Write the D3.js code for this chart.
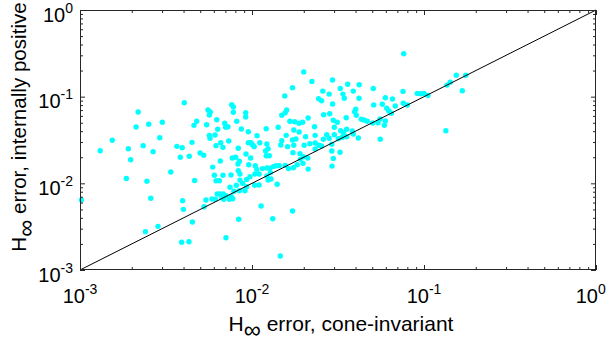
<!DOCTYPE html>
<html>
<head>
<meta charset="utf-8">
<script src="https://cdn.jsdelivr.net/npm/d3@7"></script>
<style>
  html, body { margin: 0; padding: 0; background: #fff; }
  svg { display: block; }
  text { font-family: "Liberation Sans", Arial, Helvetica, sans-serif; fill: #000; }
</style>
</head>
<body>
<div id="chart"></div>
<script>
// ---- data: H-infinity errors (x: cone-invariant, y: internally positive)
const coneInvariantErr = [
  0.00131,0.00154,0.00191,0.00197,0.00218,0.00212,0.00233,0.00251,0.00266,0.00291,
  0.00301,0.00366,0.00383,0.00393,0.00404,0.00432,0.00448,0.00460,0.00477,0.00545,
  0.00555,0.00565,0.00572,0.00565,0.00570,0.00610,0.00624,0.00632,0.00618,0.00658,
  0.00678,0.00694,0.00703,0.00725,0.00732,
  0.00102,0.00186,0.00245,0.00337,0.00258,0.00395,0.00399,0.00450,0.00464,0.00284,
  0.00240,0.00390,0.00430,
  0.00499,0.00524,0.00591,0.00654,0.00768,0.00804,0.00829,0.00844,0.00982,0.00923,
  0.00957,0.01045,0.0121,0.0126,0.0120,0.0173,0.0190,0.0199,0.0191,0.0211,
  0.0183,0.0198,0.0212,0.0174,0.0163,0.0156,0.0144,0.0138,0.0133,0.0127,
  0.0122,0.0115,0.01065,0.0110,0.0128,0.0122,0.0129,0.0124,0.0140,0.0104,
  0.00973,0.00931,0.00851,0.00832,0.00755,0.00851,0.00883,0.00811,0.00745,0.01037,
  0.0110,0.00931,0.00910,0.00844,0.00786,0.00604,0.00618,0.00646,0.00678,0.00526,
  0.00540,0.00585,0.00628,0.00651,0.00681,0.00706,0.00758,0.00772,0.00738,0.00669,
  0.00685,0.00612,0.0113,0.0172,0.00837,0.0132,0.00706,0.0146,
  0.0200,0.0223,0.0172,0.0155,0.0244,0.00762,0.00779,0.00779,0.00919,0.00919,
  0.0159,0.0156,0.0149,0.00815,0.00867,0.00952,0.0107,0.0121,0.0142,0.0166,
  0.0177,0.0188,0.0197,0.0212,0.0231,0.0175,0.0188,0.0205,0.0233,0.0158,
  0.0172,0.0180,0.0149,0.0147,0.00952,0.00987,0.0101,0.0103,0.0111,0.0122,
  0.00832,0.0124,0.0161,0.0175,0.0201,0.0217,0.0233,0.0245,0.0233,
  0.0762,0.0294,0.0326,0.0360,0.0420,0.0388,0.0258,0.0281,0.0338,0.0344,
  0.0507,0.0419,0.0254,0.0294,0.0755,0.0596,0.0656,0.0914,0.0957,0.100,
  0.1055,0.142,0.0510,0.0572,0.0607,0.0681,0.0758,0.0800,0.0624,0.0646,
  0.0401,0.0395,0.0404,0.0261,0.0283,0.0353,0.0297,0.0313,0.0432,0.0448,
  0.0468,0.0503,0.0540,0.0555,0.0596,0.0588,0.0301,0.0328,0.0341,0.0355,
  0.0383,0.0388,0.0272,0.0301,0.0281,0.0260,0.0318,0.0335,0.0355,0.0415,
  0.0557,0.134,0.0291,0.0254,0.0291,0.0325,0.0297,0.0292,0.136,0.154,
  0.175,0.167
];
const internallyPositiveErr = [
  0.0238,0.0314,0.0251,0.0187,0.0665,0.0447,0.0272,0.0480,0.0232,0.0336,
  0.0506,0.0267,0.0200,0.0258,0.0852,0.0205,0.0297,0.0467,0.0520,0.0475,
  0.0702,0.0614,0.0665,0.0358,0.0331,0.0361,0.0542,0.0420,0.0272,0.0294,
  0.0260,0.0493,0.0443,0.0450,0.0308,
  0.00642,0.0114,0.0106,0.0135,0.00672,0.00631,0.00501,0.00358,0.0108,0.00319,
  0.00277,0.00209,0.00212,
  0.0224,0.0211,0.0154,0.0181,0.0196,0.0200,0.0167,0.0180,0.0196,0.0218,
  0.0164,0.0160,0.0208,0.0208,0.0236,0.0226,0.0220,0.0203,0.0189,0.0196,
  0.0164,0.0170,0.0146,0.0151,0.0148,0.0161,0.0160,0.0160,0.0156,0.0149,
  0.0150,0.0148,0.0145,0.0128,0.0133,0.01215,0.0112,0.0109,0.00975,0.0128,
  0.0119,0.0111,0.0128,0.0140,0.0125,0.0109,0.0100,0.00949,0.00900,0.00949,
  0.00957,0.00914,0.00822,0.00822,0.00809,0.0124,0.0107,0.0107,0.0124,0.00537,
  0.00642,0.00659,0.00753,0.00753,0.00753,0.00720,0.00701,0.00665,0.00654,0.00683,
  0.00654,0.00654,0.00547,0.00480,0.00385,0.00391,0.00236,0.00145,
  0.193,0.150,0.127,0.102,0.0947,0.0808,0.0760,0.0660,0.0653,0.0582,
  0.0702,0.0653,0.0610,0.0520,0.0424,0.0394,0.0355,0.0427,0.0443,0.0520,
  0.0514,0.0493,0.0506,0.0567,0.0450,0.0412,0.0391,0.0345,0.0358,0.0358,
  0.0316,0.0325,0.0310,0.0277,0.0294,0.0294,0.0277,0.0265,0.0294,0.0284,
  0.0254,0.0251,0.0265,0.0275,0.0275,0.0287,0.0292,0.0275,0.0249,
  0.313,0.156,0.124,0.139,0.1375,0.116,0.116,0.107,0.107,0.0957,
  0.124,0.0957,0.0898,0.0823,0.115,0.0973,0.0940,0.109,0.108,0.109,
  0.103,0.147,0.0801,0.0816,0.0734,0.0780,0.0838,0.0801,0.0683,0.0643,
  0.0715,0.0671,0.0610,0.0619,0.0636,0.0572,0.0534,0.0506,0.0548,0.0538,
  0.0520,0.0497,0.0501,0.0553,0.0524,0.0467,0.0443,0.0405,0.0384,0.0420,
  0.0402,0.0371,0.0364,0.0364,0.0331,0.0322,0.0327,0.0340,0.0345,0.0333,
  0.0322,0.0405,0.0282,0.0270,0.0236,0.0228,0.0194,0.0158,0.136,0.1765,
  0.1765,0.117
];
const axisDomain = [1e-3, 1];
const majorTicks = [1e-3, 1e-2, 1e-1, 1];
const tickExponents = ["-3", "-2", "-1", "0"];
const xLabelMain = "H", xLabelSub = "\u221E", xLabelRest = " error, cone-invariant";
const yLabelMain = "H", yLabelSub = "\u221E", yLabelRest = " error, internally positive";

// ---- layout
const W = 608, H = 343;
const m = {left: 80, top: 10, right: 12, bottom: 73};
const pw = W - m.left - m.right, ph = H - m.top - m.bottom;

const svg = d3.select("#chart").append("svg").attr("width", W).attr("height", H);

const x = d3.scaleLog().domain(axisDomain).range([m.left, m.left + pw]);
const y = d3.scaleLog().domain(axisDomain).range([m.top + ph, m.top]);

const minorTicks = [];
majorTicks.slice(0, -1).forEach(t => { for (let k = 2; k <= 9; k++) minorTicks.push(t * k); });

const data = coneInvariantErr.map((v, i) => ({x: v, y: internallyPositiveErr[i]}));

// points
svg.append("g").selectAll("circle").data(data).join("circle")
  .attr("cx", d => x(d.x)).attr("cy", d => y(d.y)).attr("r", 2.7)
  .attr("fill", "#00FFFF");

// diagonal y = x
svg.append("line")
  .attr("x1", x(axisDomain[0])).attr("y1", y(axisDomain[0]))
  .attr("x2", x(axisDomain[1])).attr("y2", y(axisDomain[1]))
  .attr("stroke", "#000").attr("stroke-width", 1);

// axes (ticks inward, box)
function styleAxis(g) {
  g.select(".domain").remove();
  g.selectAll("text").remove();
  g.selectAll("line").attr("stroke", "#262626").attr("stroke-width", 1);
}
const axes = [
  [d3.axisBottom(x), `translate(0,${m.top + ph})`],
  [d3.axisTop(x), `translate(0,${m.top})`],
  [d3.axisLeft(y), `translate(${m.left},0)`],
  [d3.axisRight(y), `translate(${m.left + pw},0)`]
];
axes.forEach(([ax, tr]) => {
  svg.append("g").attr("transform", tr)
    .call(ax.tickValues(majorTicks).tickSize(-5).tickFormat(""))
    .call(styleAxis);
  svg.append("g").attr("transform", tr)
    .call(ax.tickValues(minorTicks).tickSize(-3).tickFormat(""))
    .call(styleAxis);
});
svg.append("rect")
  .attr("x", m.left + 0.5).attr("y", m.top + 0.5)
  .attr("width", pw - 1).attr("height", ph - 1)
  .attr("fill", "none").attr("stroke", "#262626").attr("stroke-width", 1);

// tick labels 10^n
majorTicks.forEach((t, i) => {
  const tx = svg.append("text").attr("x", x(t)).attr("y", m.top + ph + 33)
    .attr("text-anchor", "middle").attr("font-size", 20);
  tx.append("tspan").text("10");
  tx.append("tspan").attr("dy", -9).attr("font-size", 14).text(tickExponents[i]);
  // keep the label inside the figure (the last one sits at the right edge)
  const bb = tx.node().getBBox();
  const over = bb.x + bb.width - (W - 2);
  if (over > 0) tx.attr("x", x(t) - over);

  const ty = svg.append("text").attr("x", m.left - 7).attr("y", y(t) + 11.5)
    .attr("text-anchor", "end").attr("font-size", 20);
  ty.append("tspan").text("10");
  ty.append("tspan").attr("dy", -9).attr("font-size", 14).text(tickExponents[i]);
});

// axis titles
const xt = svg.append("text").attr("x", 341).attr("y", 331)
  .attr("text-anchor", "middle").attr("font-size", 21);
xt.append("tspan").text(xLabelMain);
xt.append("tspan").attr("dy", 7).attr("font-size", 24).text(xLabelSub);
xt.append("tspan").attr("dy", -7).text(xLabelRest);

const yt = svg.append("text")
  .attr("transform", `translate(26,127) rotate(-90)`)
  .attr("text-anchor", "middle").attr("font-size", 20.6);
yt.append("tspan").text(yLabelMain);
yt.append("tspan").attr("dy", 8).attr("font-size", 24).text(yLabelSub);
yt.append("tspan").attr("dy", -8).text(yLabelRest);
</script>
</body>
</html>
